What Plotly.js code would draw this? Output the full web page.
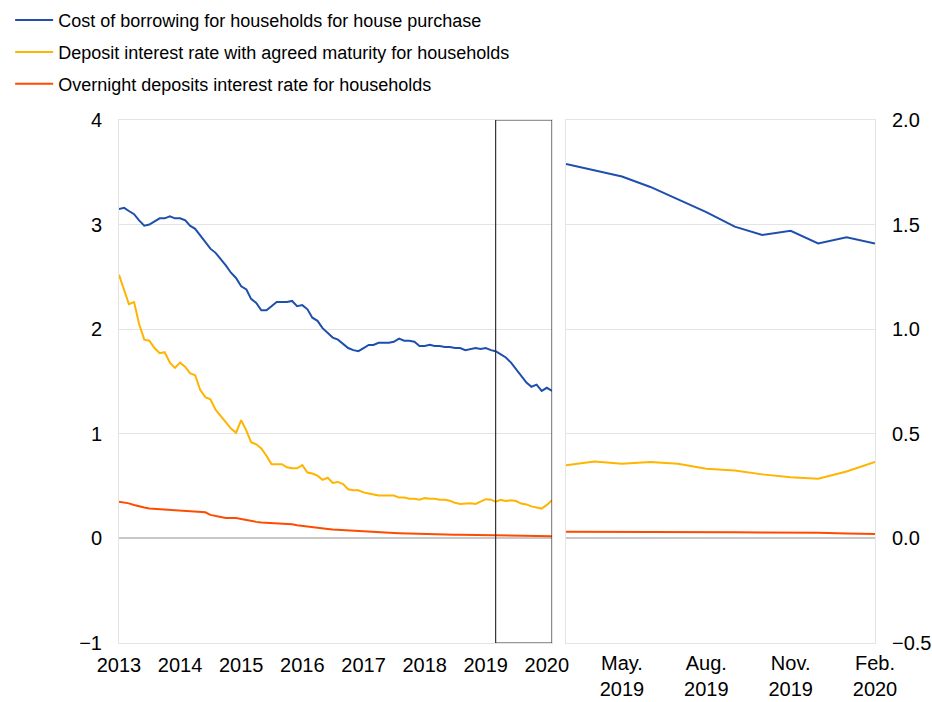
<!DOCTYPE html>
<html>
<head>
<meta charset="utf-8">
<script src="https://cdn.plot.ly/plotly-3.0.1.min.js"></script>
<style>html,body{margin:0;padding:0;background:#fff;}#chart{width:932px;height:702px;}</style>
</head>
<body>
<div id="chart"></div>
<script>
// Monthly data, Jan 2013 – Feb 2020 (percentages per annum)
const startYear = 2013;
const nMonths = 86;
const seriesNames = [
  "Cost of borrowing for households for house purchase",
  "Deposit interest rate with agreed maturity for households",
  "Overnight deposits interest rate for households"
];
const borrowing = [
  3.15,3.16,3.13,3.10,3.04,2.99,3.00,3.03,3.06,3.06,3.08,3.06,
  3.06,3.04,2.99,2.96,2.90,2.83,2.77,2.73,2.67,2.61,2.54,2.49,
  2.41,2.38,2.29,2.25,2.18,2.18,2.22,2.26,2.26,2.26,2.27,2.22,
  2.23,2.19,2.11,2.08,2.01,1.96,1.92,1.90,1.86,1.82,1.80,1.79,
  1.82,1.85,1.85,1.87,1.87,1.87,1.88,1.91,1.89,1.89,1.88,1.84,
  1.84,1.85,1.84,1.84,1.83,1.83,1.82,1.82,1.80,1.81,1.82,1.81,
  1.82,1.80,1.79,1.76,1.73,1.68,1.62,1.56,1.49,1.45,1.47,1.41,
  1.44,1.41
];
const depositAgreed = [
  2.52,2.38,2.24,2.26,2.05,1.90,1.89,1.82,1.77,1.78,1.68,1.63,
  1.68,1.64,1.58,1.56,1.42,1.35,1.33,1.23,1.17,1.11,1.05,1.01,
  1.13,1.03,0.92,0.90,0.86,0.79,0.71,0.71,0.71,0.68,0.67,0.67,
  0.70,0.63,0.62,0.60,0.56,0.58,0.53,0.54,0.52,0.47,0.46,0.46,
  0.44,0.43,0.42,0.41,0.41,0.41,0.41,0.39,0.39,0.38,0.38,0.37,
  0.385,0.38,0.38,0.37,0.37,0.36,0.34,0.33,0.335,0.335,0.33,0.35,
  0.375,0.37,0.35,0.368,0.357,0.365,0.357,0.333,0.325,0.306,0.292,0.285,
  0.32,0.365
];
const overnight = [
  0.35,0.345,0.335,0.32,0.305,0.295,0.285,0.282,0.28,0.272,0.268,0.27,
  0.262,0.26,0.26,0.257,0.255,0.25,0.225,0.218,0.205,0.195,0.195,0.194,
  0.185,0.175,0.165,0.158,0.153,0.15,0.146,0.142,0.14,0.138,0.135,0.125,
  0.118,0.114,0.11,0.10,0.095,0.09,0.085,0.082,0.079,0.076,0.072,0.067,
  0.063,0.06,0.057,0.055,0.054,0.054,0.052,0.05,0.048,0.047,0.046,0.045,
  0.043,0.041,0.04,0.038,0.037,0.036,0.035,0.035,0.034,0.034,0.034,0.033,
  0.033,0.032,0.032,0.032,0.031,0.031,0.030,0.030,0.029,0.028,0.028,0.027,
  0.024,0.021
];
const leftTickVals = ["2013-01-01","2014-01-01","2015-01-01","2016-01-01","2017-01-01","2018-01-01","2019-01-01","2020-01-01"];
const leftTickText = ["2013","2014","2015","2016","2017","2018","2019","2020"];
const rightTickVals = ["2019-05-01","2019-08-01","2019-11-01","2020-02-01"];
const rightTickText = ["May.<br>2019","Aug.<br>2019","Nov.<br>2019","Feb.<br>2020"];
const zoomStart = 74; // March 2019

const colors = ["#1f4fad", "#ffb400", "#ff4b00"];

const months = [];
for (let i = 0; i < nMonths; i++) {
  const y = startYear + Math.floor(i / 12);
  const m = (i % 12) + 1;
  months.push(y + "-" + String(m).padStart(2, "0") + "-01");
}
const allSeries = [borrowing, depositAgreed, overnight];

const traces = [];
allSeries.forEach((s, k) => {
  traces.push({
    x: months, y: s, type: "scatter", mode: "lines", name: seriesNames[k],
    line: {color: colors[k], width: 2}, xaxis: "x", yaxis: "y", legendgroup: "g" + k
  });
});
allSeries.forEach((s, k) => {
  traces.push({
    x: months.slice(zoomStart), y: s.slice(zoomStart), type: "scatter", mode: "lines",
    name: seriesNames[k], showlegend: false,
    line: {color: colors[k], width: 2}, xaxis: "x2", yaxis: "y2"
  });
});

const FONT = "'Liberation Sans', Arial, sans-serif";
const lineCol = "#e4e4e4";

const layout = {
  width: 932, height: 702,
  margin: {l: 119, r: 57, t: 120, b: 59, autoexpand: false},
  paper_bgcolor: "#fff", plot_bgcolor: "#fff",
  font: {family: FONT, size: 20, color: "#000"},
  showlegend: true,
  legend: {
    x: -0.144, xanchor: "left", y: 1.226, yanchor: "top",
    font: {family: FONT, size: 18, color: "#000"},
    tracegroupgap: 5.5, itemwidth: 38, bgcolor: "rgba(0,0,0,0)"
  },
  xaxis: {
    domain: [0, 0.5728], type: "date", range: ["2013-01-01", "2020-02-01"],
    tickvals: leftTickVals, ticktext: leftTickText, showgrid: false,
    showline: true, mirror: true, linecolor: lineCol, ticks: "", zeroline: false,
    ticklabelstandoff: 4
  },
  yaxis: {
    domain: [0, 1], range: [-1, 4], dtick: 1, tick0: 0, gridcolor: lineCol,
    zeroline: true, zerolinecolor: "#c8c8c8", zerolinewidth: 2,
    showline: true, mirror: true, linecolor: lineCol, ticks: "",
    ticklabelstandoff: 12
  },
  xaxis2: {
    domain: [0.5913, 1], anchor: "y2", type: "date", range: ["2019-03-01", "2020-02-01"],
    tickvals: rightTickVals, ticktext: rightTickText, showgrid: false,
    showline: true, mirror: true, linecolor: lineCol, ticks: "", zeroline: false,
    ticklabelstandoff: 2
  },
  yaxis2: {
    domain: [0, 1], anchor: "x2", side: "right", range: [-0.5, 2], dtick: 0.5, tick0: 0,
    tickformat: ".1f", gridcolor: lineCol,
    zeroline: true, zerolinecolor: "#c8c8c8", zerolinewidth: 2,
    showline: true, mirror: true, linecolor: lineCol, ticks: "",
    ticklabelstandoff: 12
  },
  shapes: [{
    type: "rect", xref: "x", yref: "y",
    x0: months[zoomStart], x1: months[nMonths - 1], y0: -1, y1: 4,
    line: {color: "#333", width: 1.2}, fillcolor: "rgba(0,0,0,0)"
  }]
};

Plotly.newPlot("chart", traces, layout, {displayModeBar: false, staticPlot: true});
</script>
</body>
</html>
